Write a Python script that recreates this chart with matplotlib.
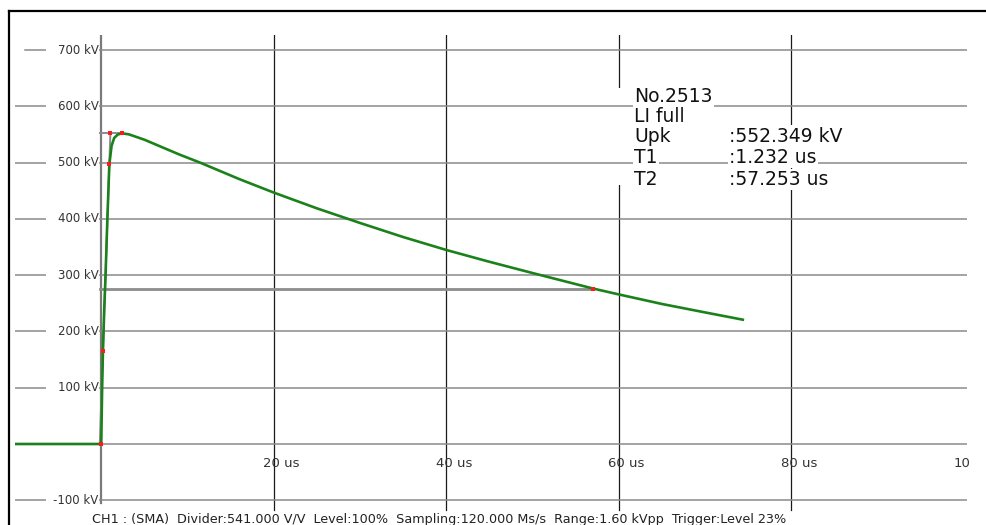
import matplotlib.pyplot as plt
from matplotlib.lines import Line2D
from matplotlib.patches import Rectangle

# Lightning impulse record (full wave), time in us, voltage in kV
time_us = [-10, 0, 0.1, 0.2, 0.35, 0.5, 0.7, 0.94, 1.2, 1.5, 1.9, 2.4,
           3.2, 5, 7, 9, 11.5, 16, 20, 25, 30, 35, 40, 45, 50, 57.08, 60,
           65, 70, 74.4]
voltage_kv = [0, 0, 95, 166, 240, 300, 395, 497, 530, 544, 550, 552.35,
              550.5, 541, 528, 515, 500, 471, 447, 419, 393, 368, 345, 324,
              304, 276.2, 266, 249, 234, 221]

# Evaluation points (origin, 30 %, 90 %, front/peak crossing, peak, half value)
mark_t = [0, 0.2, 0.94, 1.06, 2.4, 57.08]
mark_u = [0, 166, 497, 552.35, 552.35, 276.2]

# Virtual front line and helper lines
origin_t = -0.17
front_t = 1.06
peak_t = 2.4
peak_kv = 552.35
half_t = 57.08
half_kv = 276.2

y_ticks = [700, 600, 500, 400, 300, 200, 100, -100]
y_labels = ["700 kV", "600 kV", "500 kV", "400 kV", "300 kV", "200 kV",
            "100 kV", "-100 kV"]
x_ticks = [20, 40, 60, 80, 100]
x_labels = ["20 us", "40 us", "60 us", "80 us", "10"]

info_names = ["No.2513", "LI full", "Upk", "T1", "T2"]
info_values = ["", "", ":552.349 kV", ":1.232 us", ":57.253 us"]

footer = ("CH1 : (SMA)  Divider:541.000 V/V  Level:100%  "
          "Sampling:120.000 Ms/s  Range:1.60 kVpp  Trigger:Level 23%")

fig = plt.figure(figsize=(9.87, 5.25), dpi=100)
ax = fig.add_axes([15 / 987, 0, 952 / 987, 490 / 525])
ax.set_xlim(-10, 100.4)
ax.set_ylim(-144, 727.1)
ax.axis("off")

grid_gray = "#8a8a8a"
text_gray = "#333333"

# horizontal grid
for v in y_ticks + [0]:
    start = -8.8 if v == 700 else -10
    ax.plot([start, 100.4], [v, v], color=grid_gray, lw=1.1, zorder=2)

# vertical grid
ax.plot([0, 0], [-105, 727.1], color="#7a7a7a", lw=1.6, zorder=1)
for t in x_ticks[:-1]:
    ax.plot([t, t], [-117, 727.1], color="#1a1a1a", lw=0.9, zorder=1)

# gap in the 60 us line next to the info block
ax.add_patch(Rectangle((58.6, 460), 2.6, 173, facecolor="white",
                       edgecolor="none", zorder=1.5))

# white band behind the voltage labels
ax.add_patch(Rectangle((-6.4, -115), 6.1, 835, facecolor="white",
                       edgecolor="none", zorder=3))
for v, lab in zip(y_ticks, y_labels):
    ax.text(-0.3, v, lab, ha="right", va="center", fontsize=8.5,
            color=text_gray, zorder=4)

for t, lab in zip(x_ticks, x_labels):
    ax.text(t - 1.2, -34, lab, ha="left", va="center", fontsize=9.5,
            color=text_gray, zorder=4)

# evaluation helper lines
ax.plot([origin_t, front_t], [0, peak_kv], color="#8c8c8c", lw=1.4, zorder=5)
ax.plot([origin_t, peak_t], [peak_kv, peak_kv], color="#8c8c8c", lw=1.4,
        zorder=5)
ax.plot([origin_t, half_t], [half_kv, half_kv], color="#8c8c8c", lw=2.0,
        zorder=5)

# impulse waveform
ax.plot(time_us, voltage_kv, color="#1b821b", lw=1.9, zorder=6)
ax.scatter(mark_t, mark_u, s=10, color="#ff1a1a", marker="s", zorder=7,
           linewidths=0)

# info block
row_y = [618, 583, 547, 509, 470]
for y, name, val in zip(row_y, info_names, info_values):
    ax.text(61.8, y, name, ha="left", va="center", fontsize=13.5,
            color="#111111", zorder=8,
            bbox=dict(facecolor="white", edgecolor="none", pad=1.0))
    if val:
        ax.text(72.8, y, val, ha="left", va="center", fontsize=13.5,
                color="#111111", zorder=8,
                bbox=dict(facecolor="white", edgecolor="none", pad=1.0))

fig.text(92 / 987, 1 - 519 / 525, footer, ha="left", va="center",
         fontsize=9.2, color="#222222")

# outer frame
fig.add_artist(Line2D([9 / 987, 1.02], [1 - 11 / 525, 1 - 11 / 525],
                      color="black", lw=1.6))
fig.add_artist(Line2D([9 / 987, 9 / 987], [-0.02, 1 - 11 / 525],
                      color="black", lw=1.6))

fig.savefig("out.png", dpi=100)
